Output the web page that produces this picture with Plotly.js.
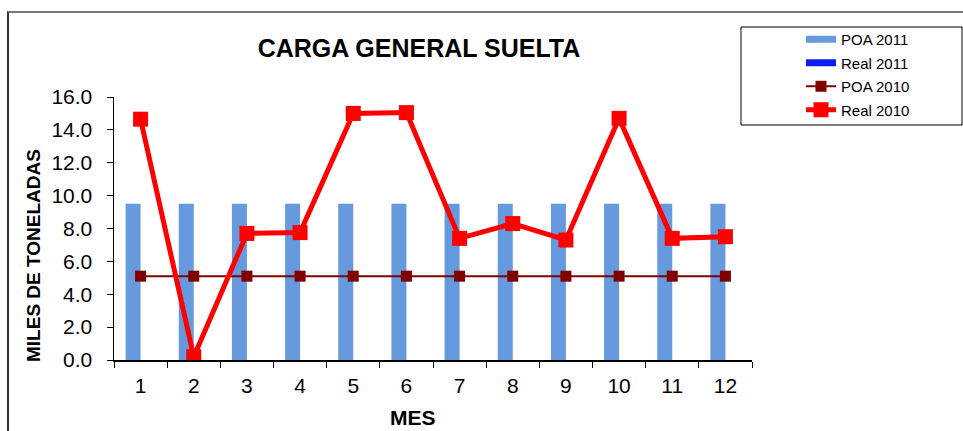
<!DOCTYPE html>
<html>
<head>
<meta charset="utf-8">
<script src="https://cdn.plot.ly/plotly-3.0.1.min.js"></script>
<style>
html,body{margin:0;padding:0;background:#fff;}
#wrap{position:relative;width:963px;height:431px;}
#chart{width:963px;height:431px;}
#frame{position:absolute;left:7px;top:11px;width:956px;height:420px;border-left:2px solid #333;border-top:2px solid #777;pointer-events:none;box-sizing:border-box;}
</style>
</head>
<body>
<div id="wrap"><div id="chart"></div><div id="frame"></div></div>
<script>
var months = ["1","2","3","4","5","6","7","8","9","10","11","12"];
var poa2011 = [9.5,9.5,9.5,9.5,9.5,9.5,9.5,9.5,9.5,9.5,9.5,9.5];
var real2011 = [null,null,null,null,null,null,null,null,null,null,null,null];
var poa2010 = [5.1,5.1,5.1,5.1,5.1,5.1,5.1,5.1,5.1,5.1,5.1,5.1];
var real2010 = [14.65,0.2,7.7,7.75,15.0,15.05,7.4,8.3,7.3,14.7,7.4,7.5];
var yTicks = [0,2,4,6,8,10,12,14,16];
var yTickText = ["0.0","2.0","4.0","6.0","8.0","10.0","12.0","14.0","16.0"];

var W=963,H=431,L=114,R=752,T=97,B=360;
var pw=R-L, ph=B-T;
function px(x){return (x-L)/pw;}
function py(y){return (B-y)/ph;}

var nulls = months.map(function(){return null;});
var traces = [
 {type:'bar', name:'POA 2011', x:months, y:poa2011, marker:{color:'#6699dd'}, showlegend:false},
 {type:'bar', name:'Real 2011', x:months, y:real2011, marker:{color:'#0a1ef0'}, showlegend:false},
 // legend-only entries for bars (no data drawn)
 {type:'scatter', mode:'lines', name:'POA 2011', x:months, y:nulls, line:{color:'#6699dd', width:7}, legendgroup:'a', hoverinfo:'skip'},
 {type:'scatter', mode:'lines', name:'Real 2011', x:months, y:nulls, line:{color:'#0a1ef0', width:7}, legendgroup:'b', hoverinfo:'skip'},
 {type:'scatter', mode:'lines+markers', name:'POA 2010', x:months, y:poa2010,
  line:{color:'#800000', width:2}, marker:{symbol:'square', size:11, color:'#800000'}, legendgroup:'c'},
 {type:'scatter', mode:'lines+markers', name:'Real 2010', x:months, y:real2010,
  line:{color:'#ff0000', width:5}, marker:{symbol:'square', size:15, color:'#ff0000'}, legendgroup:'d'}
];

var layout = {
 width:W, height:H,
 margin:{l:L, r:W-R, t:T, b:H-B, pad:0},
 paper_bgcolor:'#fff', plot_bgcolor:'#fff',
 font:{family:'Liberation Sans, Arial, sans-serif', color:'#000'},
 showlegend:true,
 barmode:'group', bargap:0.436, bargroupgap:0,
 title:{text:'<b>CARGA GENERAL SUELTA</b>', font:{size:25, color:'#000'},
  xref:'paper', x:px(419), xanchor:'center', yref:'container', y:1-48/H, yanchor:'middle'},
 xaxis:{type:'category', range:[-0.5,11.5], tickson:'boundaries', ticks:'outside', ticklen:6, tickcolor:'#000',
  showline:true, linecolor:'#000', linewidth:1.5, showgrid:false, zeroline:false,
  tickfont:{size:21}, ticklabelstandoff:6, fixedrange:true},
 yaxis:{range:[0,16], tickvals:yTicks, ticktext:yTickText, ticks:'outside', ticklen:6, tickcolor:'#000',
  showline:true, linecolor:'#000', linewidth:1.5, showgrid:false, zeroline:false,
  tickfont:{size:21}, ticklabelstandoff:10, fixedrange:true},
 legend:{x:px(801), xanchor:'left', y:py(23), yanchor:'top', bgcolor:'rgba(0,0,0,0)',
  borderwidth:0, font:{size:15}, traceorder:'grouped', tracegroupgap:1, itemwidth:30},
 shapes:[{type:'rect', xref:'paper', yref:'paper', x0:px(741), x1:px(962), y0:py(125), y1:py(27),
  line:{color:'#000', width:1}, fillcolor:'rgba(0,0,0,0)', layer:'above'}],
 annotations:[
  {text:'<b>MILES DE TONELADAS</b>', xref:'paper', yref:'paper', x:px(33), y:py(256),
   textangle:-90, showarrow:false, font:{size:19}, xanchor:'center', yanchor:'middle'},
  {text:'<b>MES</b>', xref:'paper', yref:'paper', x:px(413), y:py(418),
   showarrow:false, font:{size:21}, xanchor:'center', yanchor:'middle'}
 ]
};
Plotly.newPlot('chart', traces, layout, {displayModeBar:false, staticPlot:true});
</script>
</body>
</html>
